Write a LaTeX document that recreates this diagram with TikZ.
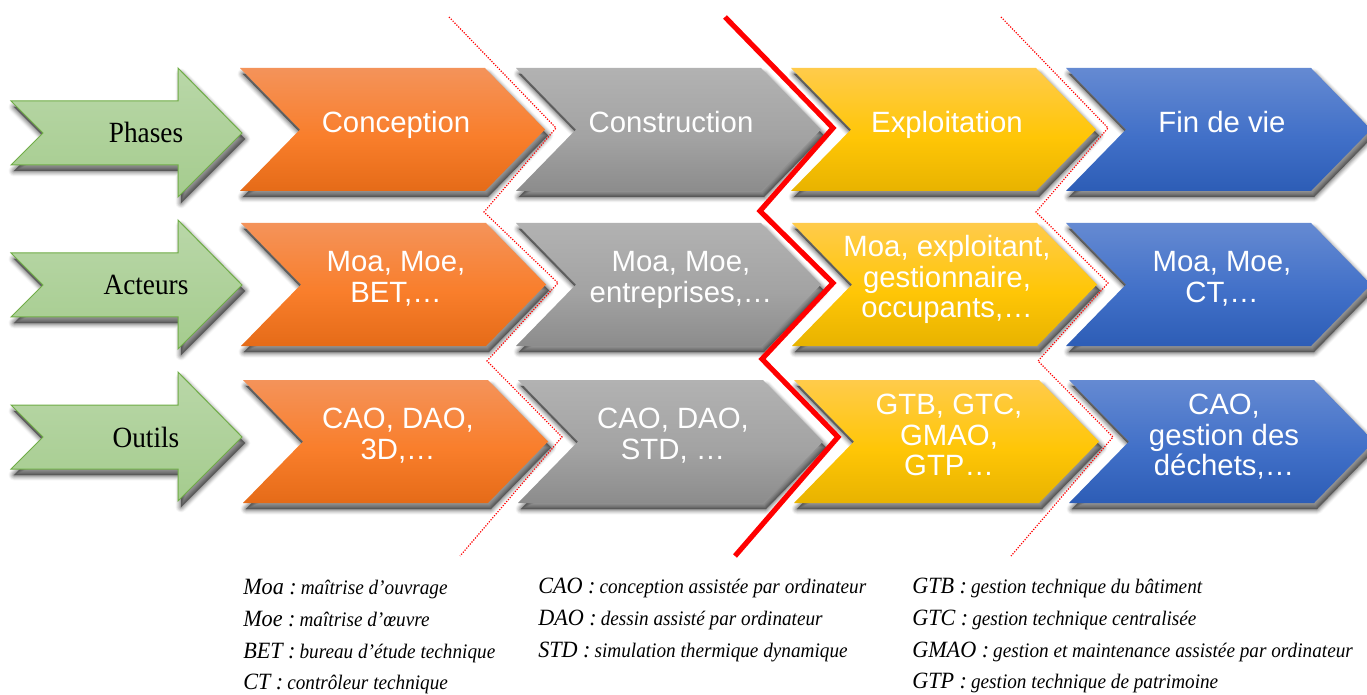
\documentclass[tikz,border=0pt]{standalone}
\usepackage{fontspec}
\setmainfont{Liberation Serif}
\newfontfamily\arialf{Liberation Sans}
\newfontfamily\garam[FakeStretch=0.93]{Liberation Serif}
\newfontfamily\garamcap[FakeStretch=0.95]{Liberation Serif Italic}
\newfontfamily\garamit[FakeStretch=0.93]{Liberation Serif Italic}
\usetikzlibrary{calc}
\definecolor{ora1}{HTML}{F4935A}\definecolor{ora2}{HTML}{F97E2B}\definecolor{ora3}{HTML}{E56B18}
\definecolor{gra1}{HTML}{B2B2B2}\definecolor{gra2}{HTML}{A3A3A3}\definecolor{gra3}{HTML}{8C8C8C}
\definecolor{yel1}{HTML}{FFCB4B}\definecolor{yel2}{HTML}{FFC606}\definecolor{yel3}{HTML}{E8B300}
\definecolor{blu1}{HTML}{658AD2}\definecolor{blu2}{HTML}{4170C8}\definecolor{blu3}{HTML}{2D5DB6}
\definecolor{gre1}{HTML}{B9D7A8}\definecolor{gre2}{HTML}{A5CC8E}\definecolor{greline}{HTML}{70AD47}
\definecolor{redl}{HTML}{FF0000}
\pgfdeclareverticalshading{sora}{100bp}{color(0bp)=(ora3); color(25bp)=(ora3); color(47bp)=(ora2); color(75bp)=(ora1); color(100bp)=(ora1)}
\pgfdeclareverticalshading{sgra}{100bp}{color(0bp)=(gra3); color(25bp)=(gra3); color(47bp)=(gra2); color(75bp)=(gra1); color(100bp)=(gra1)}
\pgfdeclareverticalshading{syel}{100bp}{color(0bp)=(yel3); color(25bp)=(yel3); color(47bp)=(yel2); color(75bp)=(yel1); color(100bp)=(yel1)}
\pgfdeclareverticalshading{sblu}{100bp}{color(0bp)=(blu3); color(25bp)=(blu3); color(47bp)=(blu2); color(75bp)=(blu1); color(100bp)=(blu1)}
\tikzset{
  x=0.75pt,y=-0.75pt,
  ptext/.style={font=\arialf\fontsize{22}{22.8}\selectfont,text=white,align=center,inner sep=0pt},
  rowlabel/.style={anchor=base,font=\garam\fontsize{22}{24}\selectfont,text=black,inner sep=0pt},
  legend/.style={anchor=base west,inner sep=0pt,text=black},
  thickred/.style={draw=redl,line width=3.9pt,line join=miter},
  thinred/.style={draw=redl,line width=0.9pt,dash pattern=on 0.9pt off 1.1pt},
  orangeshade/.style={shading=sora},
  grayshade/.style={shading=sgra},
  yellowshade/.style={shading=syel},
  blueshade/.style={shading=sblu},
  greenshade/.style={top color=gre1,bottom color=gre2},
}
\newcommand{\softshadow}[1]{%
  \foreach \wd/\op in {11/.03,9.5/.04,8/.05,6.5/.06,5/.07,3.5/.08,2/.09,0.5/.1}{%
    \path[fill=black,draw=black,fill opacity=\op,draw opacity=\op,line width=\wd*0.75pt,line join=round,shift={(3,6)}] #1;}}
\newcommand{\chev}[4]{%
  \begin{scope}[shift={(#1,#2)}]
    \softshadow{(0,0) -- (245,0) -- (305,#3/2) -- (245,#3) -- (0,#3) -- (60,#3/2) -- cycle}
    \shade[#4] (0,0) -- (245,0) -- (305,#3/2) -- (245,#3) -- (0,#3) -- (60,#3/2) -- cycle;
  \end{scope}}
\newcommand{\grarrow}[1]{%
  \begin{scope}[shift={(0,#1)}]
    \softshadow{(11,-32) -- (178,-32) -- (178,-65) -- (242,0) -- (178,64) -- (178,32) -- (11,32) -- (43,0) -- cycle}
    \shade[greenshade] (11,-32) -- (178,-32) -- (178,-65) -- (242,0) -- (178,64) -- (178,32) -- (11,32) -- (43,0) -- cycle;
    \draw[greline,line width=0.75pt,line join=miter] (11,-32) -- (178,-32) -- (178,-65) -- (242,0) -- (178,64) -- (178,32) -- (11,32) -- (43,0) -- cycle;
  \end{scope}}
\newcommand{\lgd}[2]{{\garamcap\fontsize{17.5}{20}\selectfont #1}\hspace{3pt}{\garamit\fontsize{15.5}{18}\selectfont #2}}
\begin{document}
\begin{tikzpicture}
\useasboundingbox (0,0) rectangle (1367,695);
\clip (0,0) rectangle (1367,695);
\fill[white] (0,0) rectangle (1367,695);
% green arrows
\grarrow{133}\grarrow{285}\grarrow{437}
% chevrons
\chev{240}{68}{123}{orangeshade}
\chev{516}{68}{123}{grayshade}
\chev{791}{68}{123}{yellowshade}
\chev{1066}{68}{123}{blueshade}
\chev{241}{223}{123}{orangeshade}
\chev{516}{223}{123}{grayshade}
\chev{792}{223}{123}{yellowshade}
\chev{1066}{223}{123}{blueshade}
\chev{243}{380}{123}{orangeshade}
\chev{518}{380}{123}{grayshade}
\chev{794}{380}{123}{yellowshade}
\chev{1069}{380}{123}{blueshade}
% row labels
\node[rowlabel] (lphases) at (146,143) {Phases};
\node[rowlabel] (lacteurs) at (146,295) {Acteurs};
\node[rowlabel] (loutils) at (146,447) {Outils};
% chevron texts
\node[ptext] (c11) at (396,126) {\strut Conception};
\node[ptext] (c12) at (671,126) {\strut Construction};
\node[ptext] (c13) at (947,126) {\strut Exploitation};
\node[ptext] (c14) at (1222,126) {\strut Fin de vie};
\node[ptext] (c21) at (396,281) {\strut Moa, Moe,\\\strut BET,…};
\node[ptext] (c22) at (681,281) {\strut Moa, Moe,\\\strut entreprises,…};
\node[ptext] (c23) at (947,281) {\strut Moa, exploitant,\\gestionnaire,\\\strut occupants,…};
\node[ptext] (c24) at (1222,281) {\strut Moa, Moe,\\\strut CT,…};
\node[ptext] (c31) at (398,438) {\strut CAO, DAO,\\\strut 3D,…};
\node[ptext] (c32) at (673,438) {\strut CAO, DAO,\\\strut STD, …};
\node[ptext] (c33) at (949,439) {\strut GTB, GTC,\\GMAO,\\\strut GTP…};
\node[ptext] (c34) at (1224,439) {\strut CAO,\\gestion des\\\strut déchets,…};
% separators
\coordinate (a0) at (449,17); \coordinate (a1) at (556,128); \coordinate (a2) at (484,212);
\coordinate (a3) at (558,283); \coordinate (a4) at (487,361); \coordinate (a5) at (562,437); \coordinate (a6) at (460,556);
\draw[thinred] (a0) -- (a1) -- (a2) -- (a3) -- (a4) -- (a5) -- (a6);
\coordinate (b0) at (1001,17); \coordinate (b1) at (1108,128); \coordinate (b2) at (1036,212);
\coordinate (b3) at (1108,283); \coordinate (b4) at (1038,361); \coordinate (b5) at (1113,437); \coordinate (b6) at (1011,556);
\draw[thinred] (b0) -- (b1) -- (b2) -- (b3) -- (b4) -- (b5) -- (b6);
\coordinate (r0) at (725,17); \coordinate (r1) at (833,128); \coordinate (r2) at (760,211);
\coordinate (r3) at (833,283); \coordinate (r4) at (762,359); \coordinate (r5) at (838,437); \coordinate (r6) at (735,556);
\draw[thickred] (r0) -- (r1) -- (r2) -- (r3) -- (r4) -- (r5) -- (r6);
% legends
\node[legend] (m1) at (243,594) {\lgd{Moa :}{maîtrise d’ouvrage}};
\node[legend] (m2) at (243,626) {\lgd{Moe :}{maîtrise d’œuvre}};
\node[legend] (m3) at (243,658) {\lgd{BET :}{bureau d’étude technique}};
\node[legend] (m4) at (243,689) {\lgd{CT :}{contrôleur technique}};
\node[legend] (n1) at (538,593) {\lgd{CAO :}{conception assistée par ordinateur}};
\node[legend] (n2) at (538,625) {\lgd{DAO :}{dessin assisté par ordinateur}};
\node[legend] (n3) at (538,657) {\lgd{STD :}{simulation thermique dynamique}};
\node[legend] (o1) at (912,593) {\lgd{GTB :}{gestion technique du bâtiment}};
\node[legend] (o2) at (912,625) {\lgd{GTC :}{gestion technique centralisée}};
\node[legend] (o3) at (912,657) {\lgd{GMAO :}{gestion et maintenance assistée par ordinateur}};
\node[legend] (o4) at (912,688) {\lgd{GTP :}{gestion technique de patrimoine}};
\end{tikzpicture}
\end{document}
